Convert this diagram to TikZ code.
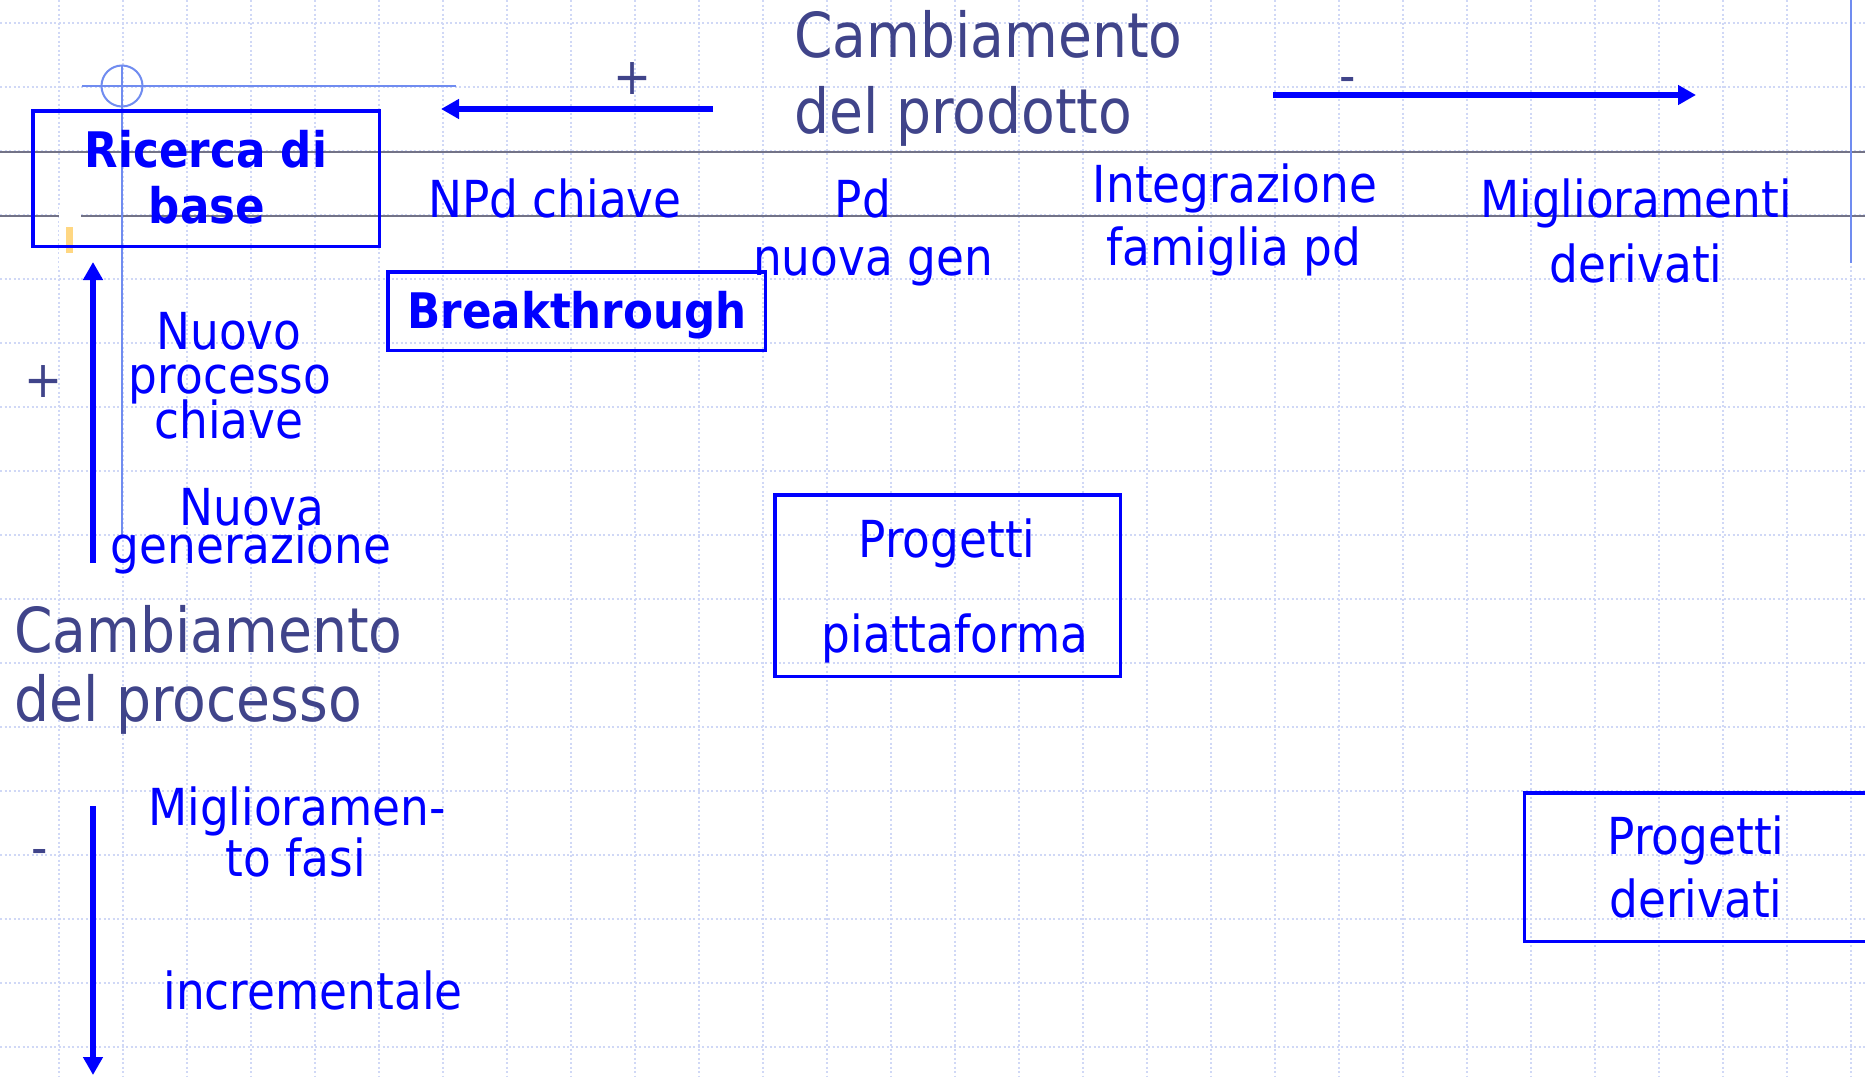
\documentclass[tikz,border=0pt]{standalone}
\usepackage{fontspec}
\setmainfont{DejaVu Sans}[FakeStretch=0.89]
\usetikzlibrary{arrows.meta}
\definecolor{tblue}{RGB}{0,0,255}
\definecolor{tdark}{RGB}{64,68,138}
\definecolor{tlight}{RGB}{112,140,240}
\definecolor{tgrid}{RGB}{208,216,246}
\definecolor{tgrey}{RGB}{115,115,135}
\definecolor{torange}{RGB}{255,215,130}
\tikzset{
 body/.style={text=tblue, inner sep=0pt, anchor=base, font=\fontsize{51}{51}\selectfont},
 boldt/.style={text=tblue, inner sep=0pt, anchor=base, font=\fontsize{49}{49}\selectfont\bfseries},
 titlet/.style={text=tdark, inner sep=0pt, anchor=base west, font=\fontsize{62}{62}\selectfont},
 sign/.style={text=tdark, inner sep=0pt, anchor=base, font=\fontsize{51}{51}\selectfont},
 boxb/.style={draw=tblue, line width=3.5pt, inner sep=0pt},
 arr/.style={draw=tblue, line width=5.5pt, -{Triangle[length=18pt,width=19pt]}},
 anno/.style={draw=tlight, line width=2pt},
 gridl/.style={draw=tgrid, line width=1.8pt, dash pattern=on 2pt off 2.5pt},
 greyl/.style={draw=tgrey, line width=1.1pt},
}
\begin{document}
\begin{tikzpicture}[x=1pt,y=-1pt]
\useasboundingbox (0,0) rectangle (1865,1076);
\clip (0,0) rectangle (1865,1076);
\fill[white] (0,0) rectangle (1865,1076);
% grid
\foreach \i in {0,...,28} { \draw[gridl] ({59+64*\i},0) -- ({59+64*\i},1076); }
\foreach \j in {0,...,16} { \draw[gridl] (0,{23+64*\j}) -- (1865,{23+64*\j}); }
% grey lines
\draw[greyl] (0,152) -- (1865,152);
\draw[greyl] (0,216) -- (1865,216);
% annotation marks
\draw[anno] (82,86) -- (456,86);
\draw[anno] (122,86) circle (20.5);
\draw[anno] (122,65) -- (122,535);
\draw[anno] (1851,0) -- (1851,263);
\fill[white] (59,207) rectangle (81,268);
\fill[torange] (66,227) rectangle (73,253);
% boxes
\node[boxb, minimum width=346.5pt, minimum height=135.5pt] (ric) at (206,178.5) {};
\node[boxb, minimum width=377.5pt, minimum height=78.5pt] (brk) at (576.5,311) {};
\node[boxb, minimum width=345.5pt, minimum height=181.5pt] (ppf) at (947.5,585.5) {};
\node[boxb, minimum width=400pt, minimum height=148.5pt, anchor=west] (pdv) at (1522.75,867) {};
% bold texts
\node[boldt] (ric1) at (206,167) {Ricerca di};
\node[boldt] (ric2) at (207,223) {base};
\node[boldt] (brk1) at (577,328) {Breakthrough};
% titles
\node[titlet] (tp1) at (794,57) {Cambiamento};
\node[titlet] (tp2) at (794,133) {del prodotto};
\node[titlet] (tc1) at (14,652) {Cambiamento};
\node[titlet] (tc2) at (14,721) {del processo};
% body texts
\node[body] (npd) at (555,217) {NPd chiave};
\node[body] (pd1) at (863,217) {Pd};
\node[body] (pd2) at (873,275) {nuova gen};
\node[body] (int1) at (1235,202) {Integrazione};
\node[body] (int2) at (1234,265) {famiglia pd};
\node[body] (mig1) at (1636,217) {Miglioramenti};
\node[body] (mig2) at (1636,282) {derivati};
\node[body] (nuo1) at (229,349) {Nuovo};
\node[body] (nuo2) at (230,393) {processo};
\node[body] (nuo3) at (229,438) {chiave};
\node[body] (ng1) at (252,525) {Nuova};
\node[body] (ng2) at (251,563) {generazione};
\node[body] (mf1) at (297,825) {Miglioramen-};
\node[body] (mf2) at (296,876) {to fasi};
\node[body] (inc) at (313,1009) {incrementale};
\node[body] (pp1) at (947,557) {Progetti};
\node[body] (pp2) at (955,652) {piattaforma};
\node[body] (pdv1) at (1696,854) {Progetti};
\node[body] (pdv2) at (1696,917) {derivati};
% signs
\node[sign, anchor=center] (spt) at (633,79) {+};
\node[sign] (smt) at (1348,93) {-};
\node[sign, anchor=center] (spl) at (44,382) {+};
\node[sign] (sml) at (40,865) {-};
% arrows
\coordinate (la1) at (713,109); \coordinate (la2) at (441,109);
\coordinate (ra1) at (1273,95); \coordinate (ra2) at (1696,95);
\coordinate (ua1) at (93,563); \coordinate (ua2) at (93,262);
\coordinate (da1) at (93,806); \coordinate (da2) at (93,1075);
\draw[arr] (la1) -- (la2);
\draw[arr] (ra1) -- (ra2);
\draw[arr] (ua1) -- (ua2);
\draw[arr] (da1) -- (da2);
\end{tikzpicture}
\end{document}
